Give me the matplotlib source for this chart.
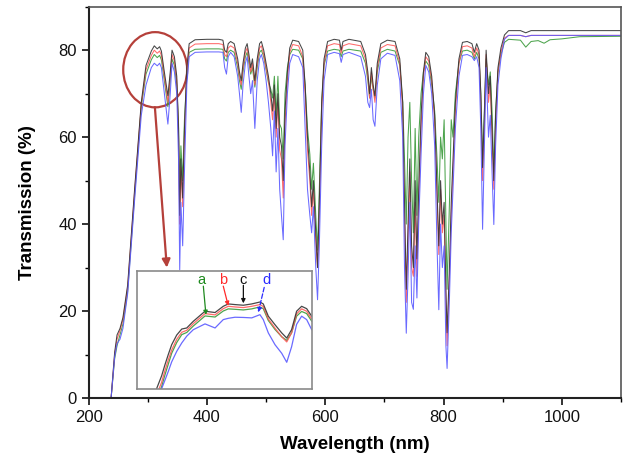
import matplotlib
matplotlib.use("Agg")
import matplotlib.pyplot as plt
from matplotlib.patches import Ellipse
from matplotlib.ticker import MultipleLocator

plt.rcParams["font.family"] = ["Liberation Sans", "DejaVu Sans"]

# Main spectrum: wavelength (nm) and transmission (%) of the four samples
wavelength = [
    200, 238, 244, 248, 253, 258, 266, 278, 289, 297, 306, 311, 316, 320, 323,
    328, 334, 338, 341, 345, 349, 352, 354, 356, 359, 362, 366, 370, 380, 400,
    420, 427, 430, 433, 436, 440, 446, 452, 455, 458, 461, 465, 468, 471, 474,
    477, 481, 485, 489, 492, 496, 500, 504, 508, 511, 514, 517, 520, 523, 526,
    529, 532, 536, 540, 545, 555, 562, 566, 570, 574, 577, 580, 584, 587, 590,
    594, 598, 604, 615, 624, 627, 630, 640, 660, 668, 672, 675, 678, 681, 684,
    688, 694, 705, 718, 726, 731, 734, 737, 740, 743, 746, 749, 752, 755, 758,
    762, 766, 770, 775, 780, 785, 789, 792, 795, 798, 801, 804, 806, 810, 813,
    816, 820, 826, 832, 840, 848, 852, 856, 860, 863, 866, 869, 872, 876, 879,
    882, 885, 888, 892, 897, 903, 910, 930, 939, 948, 960, 970, 980, 1000, 1030,
    1100,
]
trans_a = [
    0, 0, 9, 12, 14.5, 17, 24.5, 47, 67, 74.5, 77.8, 79, 78.3, 78.8, 77.8,
    73, 67, 73, 78, 76.5, 72, 63, 48, 58, 50, 64, 74, 79.5, 80.2, 80.3,
    80.3, 80.2, 78, 77.5, 79.5, 80, 79.5, 76, 73, 71, 75, 78.5, 79.5, 77, 74.5,
    76, 71.5, 76, 79.5, 80, 78.5, 75.5, 72.5, 71, 69, 74, 65, 74, 63, 62,
    55, 70, 76, 79, 80.2, 80, 78, 72, 62, 56, 48, 54, 42, 34, 48,
    68, 76.5, 79.8, 80.2, 80, 78.5, 79.8, 80.2, 79.8, 77, 73, 69, 74, 71, 69,
    75, 79.5, 80.2, 79.8, 76.5, 68, 55, 40, 60, 68, 50, 38, 62, 42, 60,
    70, 75, 77.5, 76.5, 72, 66, 55, 45, 60, 55, 64, 40, 25, 45, 64,
    60, 70, 77, 79.8, 80, 79.5, 78, 79.5, 78, 70, 55, 66, 78, 72, 75,
    66, 52, 66, 75, 79, 81.8, 82.5, 82.3, 80.7, 82, 82.2, 81.6, 82.4, 82.6, 83.1,
    83.2,
]
trans_b = [
    0, 0, 10, 13.5, 15.5, 18, 25.5, 48, 67.5, 75.5, 78.8, 80, 79.3, 79.8, 78.8,
    74, 68, 74, 79, 77.5, 73, 60, 40, 53, 44, 60, 75, 80.5, 81.4, 81.5,
    81.5, 81.3, 79, 78.5, 80.5, 81, 80.5, 77, 74, 72, 76, 79.5, 80.5, 78, 75,
    77, 72, 77, 80.5, 81, 79, 76, 73, 68, 64, 70, 60, 68, 57, 55,
    46, 63, 73, 79.5, 81.3, 81, 78.5, 70, 57, 50, 42, 48, 36, 30, 42,
    66, 77, 81, 81.5, 81.3, 79.3, 81, 81.5, 81, 78, 74, 69, 75, 71, 68,
    76, 80.5, 81.3, 81, 77, 66, 42, 22, 36, 52, 30, 28, 45, 28, 45,
    62, 74, 78.5, 77.5, 73, 64, 46, 33, 48, 38, 42, 22, 12, 28, 42,
    52, 66, 77, 80.8, 81, 80.5, 78.5, 80.5, 79, 68, 50, 62, 79, 68, 72,
    60, 48, 62, 75, 79.5, 82.8, 83.4, 83.4, 83.1, 83.4, 83.4, 83.4, 83.4, 83.4, 83.4,
    83.4,
]
trans_c = [
    0, 0, 10.5, 14.5, 16, 18.5, 26, 48.5, 68, 76.5, 79.8, 81, 80.3, 80.8, 79.8,
    75, 69.5, 75, 80, 78.5, 74, 62, 42, 55, 46, 62, 76, 81.5, 82.4, 82.5,
    82.5, 82.3, 80, 79.5, 81.5, 82, 81.5, 78, 75, 73, 77, 80.5, 81.5, 79, 76,
    78, 73, 78, 81.5, 82, 80, 77, 74, 70, 66, 72, 62, 70, 60, 58,
    50, 66, 75, 80.5, 82.3, 82, 80, 72, 60, 52, 44, 50, 38, 30, 45,
    68, 78, 82, 82.5, 82.3, 80, 82, 82.5, 82, 79, 75, 70, 76, 72, 69.5,
    77, 81.5, 82.3, 82, 78, 68, 45, 25, 40, 55, 35, 30, 50, 32, 48,
    65, 75, 79.5, 78.5, 74, 65, 48, 35, 50, 40, 45, 25, 15, 30, 45,
    55, 68, 78, 81.8, 82, 81.5, 79.5, 81.5, 80, 70, 53, 65, 80, 70, 74,
    62, 50, 65, 76, 80.5, 83.5, 84.5, 84.5, 84, 84.5, 84.5, 84.5, 84.5, 84.5, 84.5,
    84.5,
]
trans_d = [
    0, 0, 9.5, 12.5, 13.5, 16, 24, 46, 65, 72, 76, 77, 76.4, 77, 76,
    70, 63, 70, 77, 75, 70, 55, 29.5, 45, 35, 52, 72, 78.5, 79.5, 79.6,
    79.6, 79.5, 76, 74.5, 78.5, 79.5, 78.5, 74, 70, 65.7, 72, 77, 78.5, 74, 70,
    73, 62, 73, 78, 79, 77, 73, 68, 62, 55.7, 66, 52, 62, 48, 42,
    36.4, 58, 70, 77, 79, 78.5, 76, 62, 48, 42, 38, 44, 30, 22.6, 35,
    58, 73, 79, 79.5, 79.2, 77.2, 79, 79.5, 78.5, 74, 68, 66.8, 71, 64, 62.5,
    72, 78, 79.3, 78.8, 73, 60, 30, 14.9, 28, 45, 22, 20.4, 35, 23, 40,
    56, 70, 76.5, 75, 70, 58, 35, 20.3, 40, 30, 35, 12, 6.8, 23, 38,
    48, 62, 74, 78.8, 79, 78.5, 77.6, 78.5, 76, 62, 38.8, 58, 76, 60, 65,
    52, 39.9, 58, 72, 78, 82.5, 83.4, 83.4, 83.1, 83.4, 83.4, 83.4, 83.4, 83.4, 83.4,
    83.4,
]

# Inset: magnified view of the circled region
inset_wl = [
    265.7, 268.4, 270.2, 272.0, 273.8, 276.5, 279.2, 281.9, 285.4, 291.7,
    297.1, 301.5, 304.2, 307.8, 312.3, 316.8, 321.2, 323.0, 325.7, 329.3,
    332.9, 335.6, 338.2, 340.9, 343.6, 346.3, 349.0,
]
inset_c = [30.0, 36, 41.2, 46, 50.5, 55, 57.8, 58.3, 61.4, 66.1,
           65.5, 68.4, 69.5, 69.2, 68.9, 69.5, 70.4, 69.5, 63.8, 59.8,
           56.0, 53.6, 57.5, 66.1, 68.4, 67.3, 63.8]
inset_b = [27, 33, 38.5, 43.5, 48, 53, 56.3, 57.2, 60.3, 65,
           64.4, 67.3, 68.4, 68.1, 67.8, 68.4, 69.2, 68.3, 62.5, 58.2,
           54.2, 51.8, 56.0, 64.9, 67.2, 66.1, 62.5]
inset_a = [25, 31, 36.5, 41.5, 46.5, 51.5, 55.2, 56.2, 59.2, 63.9,
           63.4, 66.2, 67.2, 67, 66.7, 67.2, 68.1, 67.3, 61.8, 57.6,
           54.2, 52.5, 56, 63.8, 66, 65, 61.5]
inset_d = [20, 30, 34, 38.1, 42.5, 47.4, 51.3, 54.5, 57.5, 60.2,
           58.3, 62.2, 62.8, 63.3, 63.2, 63.0, 64.5, 62.2, 56.0, 50.5,
           46.5, 42.3, 49.5, 60, 63.8, 62.2, 57.5]

sample_labels = ["a", "b", "c", "d"]
line_colors = ["#3a9a3a", "#ff5a5a", "#333333", "#5a5aff"]
text_colors = ["#1f8a1f", "#ff2a2a", "#111111", "#2a2aff"]

fig = plt.figure(figsize=(6.25, 4.62), dpi=100)
ax = fig.add_axes([0.1418, 0.1385, 0.8518, 0.847])

for vals, col in zip([trans_a, trans_b, trans_c, trans_d], line_colors):
    ax.plot(wavelength, vals, color=col, lw=0.75, alpha=0.9)

ax.set_xlim(200, 1100)
ax.set_ylim(0, 90)
ax.xaxis.set_major_locator(MultipleLocator(200))
ax.xaxis.set_minor_locator(MultipleLocator(100))
ax.yaxis.set_major_locator(MultipleLocator(20))
ax.yaxis.set_minor_locator(MultipleLocator(10))
ax.set_yticks([0, 20, 40, 60, 80])
ax.tick_params(which="major", direction="out", length=5, width=1.2,
               labelsize=12, colors="#111111")
ax.tick_params(which="minor", direction="out", length=3, width=1.0)
for side in ["left", "bottom"]:
    ax.spines[side].set_linewidth(1.5)
    ax.spines[side].set_color("#222222")
for side in ["top", "right"]:
    ax.spines[side].set_linewidth(1.2)
    ax.spines[side].set_color("#555555")

ax.set_xlabel("Wavelength (nm)", fontsize=13.5, fontweight="bold", labelpad=8)
ax.set_ylabel("Transmission (%)", fontsize=13.5, fontweight="bold", labelpad=16)

# circle marking the zoomed region and the arrow down to the inset
ax.add_patch(Ellipse((312.5, 75.5), 108, 17.3, fill=False,
                     edgecolor="#b5403a", lw=1.6))
ax.annotate("", xy=(332.2, 30.0), xytext=(312, 66.9),
            arrowprops=dict(arrowstyle="-|>", color="#b5403a", lw=1.6,
                            mutation_scale=12, shrinkA=0, shrinkB=0))

# inset
ins = fig.add_axes([0.2187, 0.1587, 0.28, 0.2554])
ins.set_facecolor("white")
for vals, col in zip([inset_a, inset_b, inset_c, inset_d], line_colors):
    ins.plot(inset_wl, vals, color=col, lw=0.9, alpha=0.9)
ins.set_xlim(255, 349)
ins.set_ylim(30, 85)
ins.set_xticks([])
ins.set_yticks([])
for s in ins.spines.values():
    s.set_color("#8a8a8a")
    s.set_linewidth(1.2)

letter_pos = [(289.9, 80.8), (301.2, 80.8), (312.1, 80.8), (324.8, 80.8)]
arrow_from = [(290.8, 77.8), (301.5, 77.8), (312.3, 78.2), (323.5, 77.2)]
arrow_to = [(292.2, 64.4), (304.2, 68.6), (312.3, 69.8), (320.3, 65.6)]
for lab, col, p, a0, a1 in zip(sample_labels, text_colors, letter_pos,
                               arrow_from, arrow_to):
    ins.text(p[0], p[1], lab, color=col, fontsize=10.5, ha="center",
             va="center")
    ls = "--" if lab == "d" else "-"
    ins.annotate("", xy=a1, xytext=a0,
                 arrowprops=dict(arrowstyle="-|>", color=col, lw=0.9,
                                 linestyle=ls, mutation_scale=6,
                                 shrinkA=0, shrinkB=0))

fig.savefig("out.png", dpi=100)
